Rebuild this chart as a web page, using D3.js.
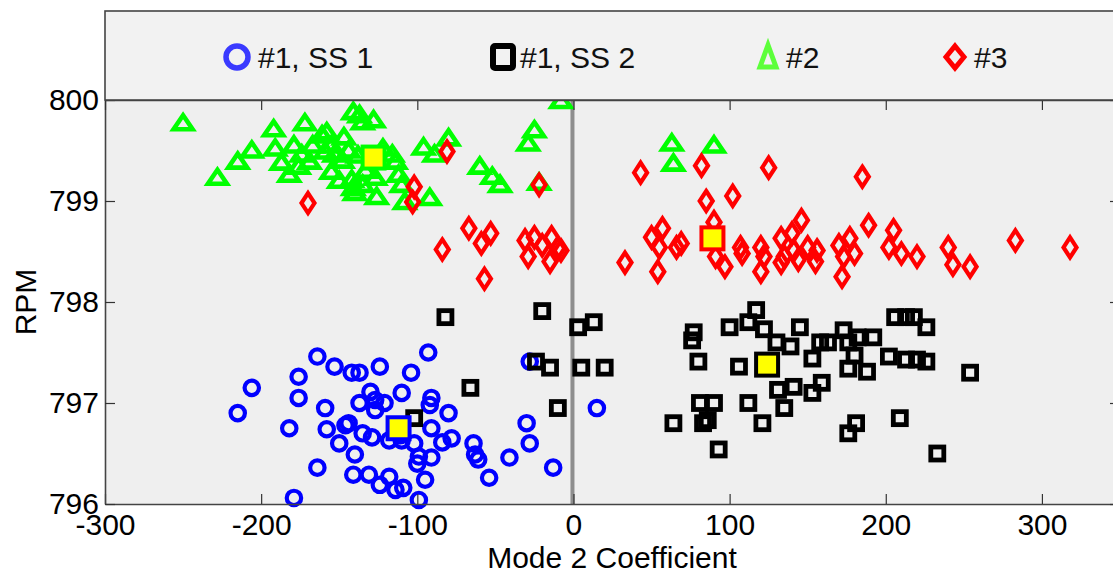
<!DOCTYPE html>
<html>
<head>
<meta charset="utf-8">
<script src="https://cdn.jsdelivr.net/npm/d3@7"></script>
<style>
  body { margin: 0; background: #fff; }
  svg { display: block; font-family: "Liberation Sans", Arial, sans-serif; }
</style>
</head>
<body>
<script>
// series labels, in legend order
var seriesNames = ["#1, SS 1", "#1, SS 2", "#2", "#3"];

// [Mode 2 coefficient, RPM]
var ss1Points = [
  [-206,797.15],[-215,796.90],[-182,796.75],[-176,797.26],[-176,797.05],[-164,797.46],[-164,796.36],[-179,796.06],
  [-159,796.95],[-158,796.74],[-153,797.36],[-150,796.60],[-146,796.78],[-142,797.30],[-137,797.30],[-140,796.49],
  [-141,796.29],[-137,797.00],[-130,797.11],[-131,796.29],[-127,796.93],[-121,797.00],[-124,797.36],[-124,796.19],
  [-118,796.27],[-114,796.14],[-109,796.16],[-104,797.30],[-110,797.10],[-93,797.50],[-91,797.05],[-92,796.98],
  [-80,796.90],[-91,796.75],[-84,796.61],[-78,796.65],[-102,796.60],[-99,796.47],[-91,796.46],[-100,796.40],
  [-95,796.24],[-99,796.04],[-129,796.66],[-135,796.70],[-118,796.63],[-110,796.63],[-144,796.80],[-64,796.60],
  [-63,796.49],[-61,796.44],[-54,796.26],[-41,796.46],[-30,796.80],[-28,796.60],[-13,796.36],[-28,797.41],
  [15,796.95],[-127,797.03],[-111,796.68]
];

var ss2Points = [
  [-82,797.85],[-20,797.91],[3,797.75],[13,797.80],[-66,797.15],[-24,797.41],[-15,797.35],[5,797.35],[20,797.35],
  [-10,796.95],[-102,796.85],[77,797.70],[76,797.62],[80,797.41],[100,797.75],[106,797.36],[117,797.92],[112,797.80],
  [122,797.73],[130,797.60],[139,797.56],[145,797.75],[153,797.44],[158,797.60],[163,797.60],[173,797.72],[176,797.60],
  [182,797.65],[192,797.65],[176,797.34],[180,797.47],[188,797.31],[202,797.46],[206,797.85],[213,797.85],[218,797.85],
  [226,797.75],[213,797.43],[220,797.43],[226,797.41],[254,797.30],[131,797.13],[141,797.16],[153,797.10],[159,797.20],
  [135,796.95],[81,797.00],[90,797.00],[64,796.80],[83,796.80],[86,796.83],[112,797.00],[121,796.80],[93,796.54],
  [176,796.70],[181,796.80],[209,796.85],[233,796.50]
];

var set2Points = [
  [-250,799.77],[-228,799.23],[-215,799.39],[-206,799.50],[-192,799.71],[-191,799.52],[-172,799.77],[-179,799.55],
  [-187,799.38],[-182,799.26],[-176,799.34],[-174,799.46],[-169,799.39],[-167,799.55],[-161,799.65],[-158,799.68],
  [-155,799.55],[-159,799.49],[-153,799.46],[-155,799.29],[-147,799.63],[-141,799.88],[-137,799.85],[-135,799.78],
  [-128,799.80],[-144,799.50],[-142,799.21],[-141,799.13],[-140,799.08],[-135,799.16],[-127,799.23],[-126,799.04],
  [-116,799.46],[-114,799.39],[-112,799.26],[-110,799.16],[-108,798.99],[-92,799.03],[-96,799.53],[-89,799.46],
  [-80,799.62],[-60,799.34],[-52,799.24],[-47,799.16],[-25,799.70],[-29,799.57],[-22,799.18],[-8,799.99],
  [63,799.57],[64,799.37],[90,799.55],[-148,799.40],[-138,799.45],[-133,799.30],[-150,799.20],[-122,799.52]
];

var set3Points = [
  [-170,798.98],[-81,799.49],[-102,799.14],[-103,798.99],[-84,798.52],[-67,798.73],[-59,798.58],[-53,798.68],
  [-57,798.23],[-22,799.16],[-31,798.61],[-25,798.64],[-14,798.64],[-8,798.51],[-29,798.45],[-15,798.40],
  [-20,798.56],[-10,798.53],[43,799.28],[82,799.35],[125,799.33],[185,799.24],[85,799.00],[102,799.05],
  [33,798.39],[50,798.64],[57,798.73],[55,798.54],[54,798.30],[66,798.54],[69,798.58],[90,798.79],
  [91,798.45],[97,798.35],[107,798.54],[108,798.48],[120,798.54],[122,798.45],[120,798.30],[133,798.63],
  [140,798.68],[146,798.81],[135,798.45],[141,798.51],[144,798.42],[133,798.39],[150,798.54],[155,798.40],
  [156,798.51],[170,798.56],[177,798.63],[180,798.48],[173,798.45],[172,798.25],[189,798.76],[205,798.71],
  [202,798.54],[210,798.48],[220,798.45],[240,798.54],[243,798.37],[254,798.35],[283,798.61],[318,798.54]
];

// cluster means, same order as seriesNames
var meanPoints = [[-112,796.75],[124,797.38],[-128,799.43],[89,798.63]];

var xTicks = [-300,-200,-100,0,100,200,300];
var yTicks = [796,797,798,799,800];

var w = 1113;
var h = 574;
var colors = ["#0000ff", "#000000", "#00ff00", "#ff0000"];
var legendColors = ["#3a3aff", "#000000", "#5cff3a", "#ff0000"];

var x = d3.scaleLinear().domain([-300, 350]).range([105, 1120]);
var y = d3.scaleLinear().domain([796, 800]).range([504, 100]);

var svg = d3.select("body")
            .append("svg")
            .attr("width", w)
            .attr("height", h);

svg.append("rect")
   .attr("x", x(-300)).attr("y", y(800))
   .attr("width", x(350) - x(-300)).attr("height", y(796) - y(800))
   .attr("fill", "#efefef");

// zero line
svg.append("line")
   .attr("x1", x(0) - 1).attr("x2", x(0) - 1)
   .attr("y1", y(800)).attr("y2", y(796))
   .attr("stroke", "#8e8e8e")
   .attr("stroke-width", 4);

var triPath = "M0,-8L9.5,6L-9.5,6Z";
var diaPath = "M0,-10L6.5,0L0,10L-6.5,0Z";

svg.append("g").selectAll("circle")
   .data(ss1Points).enter()
   .append("circle")
   .attr("cx", function(d) { return x(d[0]); })
   .attr("cy", function(d) { return y(d[1]); })
   .attr("r", 7.2)
   .attr("fill", "none")
   .attr("stroke", colors[0])
   .attr("stroke-width", 4.2);

svg.append("g").selectAll("rect")
   .data(ss2Points).enter()
   .append("rect")
   .attr("x", function(d) { return x(d[0]) - 6.5; })
   .attr("y", function(d) { return y(d[1]) - 6.5; })
   .attr("width", 13).attr("height", 13)
   .attr("fill", "none")
   .attr("stroke", colors[1])
   .attr("stroke-width", 4.8);

svg.append("g").selectAll("path")
   .data(set2Points).enter()
   .append("path")
   .attr("d", triPath)
   .attr("transform", function(d) { return "translate(" + x(d[0]) + "," + y(d[1]) + ")"; })
   .attr("fill", "none")
   .attr("stroke", colors[2])
   .attr("stroke-width", 4.6)
   .attr("stroke-linejoin", "miter");

svg.append("g").selectAll("path")
   .data(set3Points).enter()
   .append("path")
   .attr("d", diaPath)
   .attr("transform", function(d) { return "translate(" + x(d[0]) + "," + y(d[1]) + ")"; })
   .attr("fill", "none")
   .attr("stroke", colors[3])
   .attr("stroke-width", 4.2);

svg.append("g").selectAll("rect")
   .data(meanPoints).enter()
   .append("rect")
   .attr("x", function(d) { return x(d[0]) - 11; })
   .attr("y", function(d) { return y(d[1]) - 11; })
   .attr("width", 22).attr("height", 22)
   .attr("fill", "#ffff00")
   .attr("stroke", function(d, i) { return colors[i]; })
   .attr("stroke-width", 4);

// axes
var fmt = function(d) { return d < 0 ? "-" + Math.abs(d) : String(d); };

var gx = svg.append("g")
   .attr("transform", "translate(0," + y(796) + ")")
   .call(d3.axisBottom(x).tickValues(xTicks).tickFormat(fmt).tickSizeInner(-10).tickSizeOuter(0).tickPadding(10));

var gy = svg.append("g")
   .attr("transform", "translate(" + x(-300) + ",0)")
   .call(d3.axisLeft(y).tickValues(yTicks).tickFormat(fmt).tickSizeInner(-10).tickSizeOuter(0).tickPadding(6));

var gt = svg.append("g")
   .attr("transform", "translate(0," + y(800) + ")")
   .call(d3.axisTop(x).tickValues(xTicks).tickFormat("").tickSizeInner(-10).tickSizeOuter(0));

var gr = svg.append("g")
   .attr("transform", "translate(" + x(350) + ",0)")
   .call(d3.axisRight(y).tickValues(yTicks).tickFormat("").tickSizeInner(-10).tickSizeOuter(0));

[gx, gy, gt, gr].forEach(function(g) {
  g.selectAll("path").attr("stroke", "#444").attr("stroke-width", 1.6);
  g.selectAll("line").attr("stroke", "#333").attr("stroke-width", 1.2);
  g.selectAll("text")
   .attr("fill", "#000")
   .style("font-family", "'Liberation Sans', Arial, sans-serif")
   .style("font-size", "30px");
});
gy.selectAll("text").attr("dy", "0.3em");

// legend box above the axes
svg.append("rect")
   .attr("x", x(-300)).attr("y", 11)
   .attr("width", x(350) - x(-300)).attr("height", y(800) - 11)
   .attr("fill", "#f2f2f2")
   .attr("stroke", "#444")
   .attr("stroke-width", 1.6);

var legendX = [237, 503, 768, 955];
var legendY = 57;
var lg = svg.append("g");

lg.append("circle")
  .attr("cx", legendX[0]).attr("cy", legendY).attr("r", 11)
  .attr("fill", "none").attr("stroke", legendColors[0]).attr("stroke-width", 5.5);
lg.append("rect")
  .attr("x", legendX[1] - 10).attr("y", legendY - 11).attr("width", 20).attr("height", 22)
  .attr("fill", "none").attr("stroke", legendColors[1]).attr("stroke-width", 6).attr("rx", 2);
lg.append("path")
  .attr("d", "M0,-11L8,11L-8,11Z")
  .attr("transform", "translate(" + legendX[2] + "," + (legendY - 1) + ")")
  .attr("fill", "none").attr("stroke", legendColors[2]).attr("stroke-width", 5);
lg.append("path")
  .attr("d", "M0,-11L9,0L0,11L-9,0Z")
  .attr("transform", "translate(" + legendX[3] + "," + legendY + ")")
  .attr("fill", "none").attr("stroke", legendColors[3]).attr("stroke-width", 5);

lg.selectAll("text")
  .data(seriesNames).enter()
  .append("text")
  .attr("x", function(d, i) { return legendX[i] + [21, 17, 18, 19][i]; })
  .attr("y", 68)
  .attr("font-size", "30px")
  .attr("fill", "#111")
  .text(function(d) { return d; });

// axis titles
svg.append("text")
   .attr("x", 612).attr("y", 568)
   .attr("text-anchor", "middle")
   .attr("font-size", "30px")
   .text("Mode 2 Coefficient");

svg.append("text")
   .attr("transform", "translate(36,302) rotate(-90)")
   .attr("text-anchor", "middle")
   .attr("font-size", "30px")
   .text("RPM");
</script>
</body>
</html>
